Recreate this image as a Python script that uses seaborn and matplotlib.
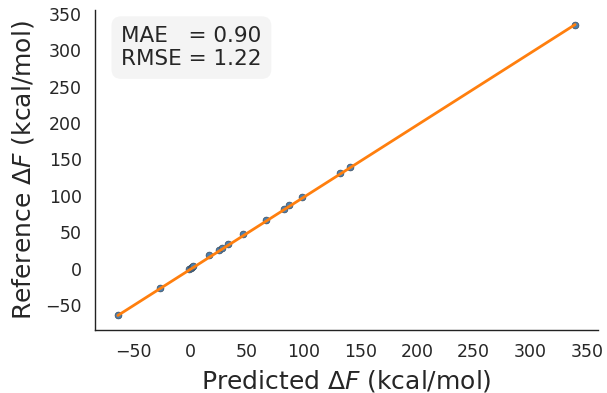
import numpy as np
import pandas as pd
import matplotlib
matplotlib.use("Agg")
import matplotlib.pyplot as plt
import seaborn as sns

predicted = [-64.0, -26.5, -1.0, 0.5, 1.5, 2.5, 16.0, 25.0, 28.0, 33.0, 46.0, 67.0, 83.0, 87.0, 98.5, 132.0, 140.5, 339.5]
reference = [-64.5, -26.5, -0.5, 1.0, 2.0, 3.0, 18.0, 25.0, 28.5, 34.0, 47.0, 67.0, 81.5, 88.0, 99.0, 132.0, 139.5, 335.5]
mae_text = "MAE   = 0.90\nRMSE = 1.22"

sns.set_theme(style="white")
plt.rcParams['font.family'] = ['DejaVu Sans']

df = pd.DataFrame({"Predicted": predicted, "Reference": reference})

fig = plt.figure(figsize=(6.07, 3.93), dpi=100)
ax = fig.add_axes([95/607, 63/393, 503/607, 320/393])

sns.scatterplot(data=df, x="Predicted", y="Reference", ax=ax, color="#4a7fb0",
                edgecolor="#3a4a5a", linewidth=0.5, s=24, zorder=2)
lo, hi = min(predicted), max(predicted)
lo_y, hi_y = min(reference), max(reference)
ax.plot([lo, hi], [lo_y, hi_y], color="#ff7f0e", lw=2, zorder=3)

ax.set_xlabel(r"Predicted $\Delta F$ (kcal/mol)", fontsize=18, labelpad=5)
ax.set_ylabel(r"Reference $\Delta F$ (kcal/mol)", fontsize=18, labelpad=7)
ax.set_xticks(np.arange(-50, 351, 50))
ax.set_yticks(np.arange(-50, 351, 50))
ax.tick_params(labelsize=12.5)
for s in ["left", "bottom"]:
    ax.spines[s].set_color("#222222")
    ax.spines[s].set_linewidth(1.0)
sns.despine(ax=ax)

ax.text(0.052, 0.95, mae_text, transform=ax.transAxes, fontsize=15.5, va="top", ha="left",
        color="#262626",
        bbox=dict(boxstyle="round,pad=0.45", facecolor="#f4f4f4", edgecolor="none"))

fig.savefig("out.png", dpi=100)
